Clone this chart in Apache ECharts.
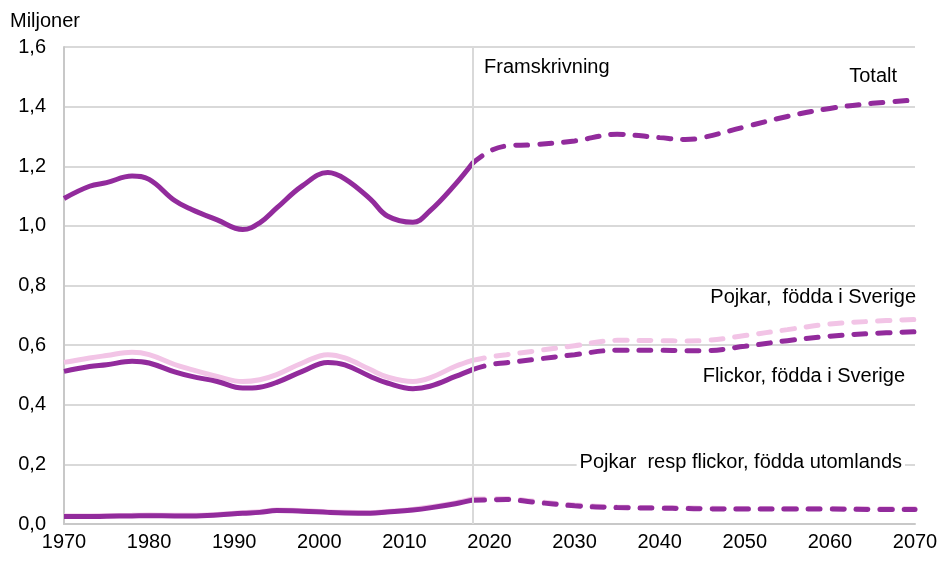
<!DOCTYPE html>
<html>
<head>
<meta charset="utf-8">
<title>Barn och unga</title>
<script src="https://cdn.jsdelivr.net/npm/echarts@6/dist/echarts.min.js"></script>
<style>
    html, body { margin: 0; padding: 0; background: #fff; }
    #main { width: 943px; height: 561px; }
</style>
</head>
<body>
<div id="main"></div>
<script>
    // år för utfall resp framskrivning
    var histYears = [1970, 1973, 1975, 1978, 1980, 1983, 1985, 1988, 1991, 1993, 1995, 1998, 2001, 2003, 2006, 2008, 2011, 2013, 2016, 2018];
    var projYears = [2018, 2020, 2022, 2025, 2030, 2035, 2040, 2043, 2045, 2050, 2055, 2060, 2065, 2070];

    var totHist = [1.092, 1.133, 1.145, 1.167, 1.156, 1.085, 1.055, 1.02, 0.988, 1.01, 1.06, 1.134, 1.179, 1.158, 1.09, 1.033, 1.012, 1.05, 1.14, 1.21];
    var totProj = [1.21, 1.25, 1.268, 1.272, 1.285, 1.307, 1.296, 1.29, 1.296, 1.332, 1.367, 1.394, 1.411, 1.422];

    var pojkarHist = [0.542, 0.557, 0.565, 0.576, 0.568, 0.535, 0.518, 0.495, 0.478, 0.484, 0.501, 0.540, 0.568, 0.557, 0.518, 0.493, 0.478, 0.490, 0.529, 0.549];
    var pojkarProj = [0.549, 0.560, 0.568, 0.579, 0.598, 0.616, 0.615, 0.614, 0.615, 0.632, 0.652, 0.671, 0.680, 0.686];

    var flickorHist = [0.512, 0.528, 0.534, 0.546, 0.540, 0.510, 0.495, 0.478, 0.456, 0.459, 0.475, 0.512, 0.542, 0.534, 0.495, 0.473, 0.454, 0.462, 0.495, 0.518];
    var flickorProj = [0.518, 0.534, 0.541, 0.551, 0.568, 0.583, 0.583, 0.581, 0.581, 0.596, 0.615, 0.630, 0.639, 0.645];

    var utlPojkarHist = [0.027, 0.027, 0.028, 0.029, 0.030, 0.029, 0.029, 0.032, 0.038, 0.041, 0.047, 0.045, 0.041, 0.039, 0.038, 0.042, 0.049, 0.057, 0.071, 0.084];
    var utlPojkarProj = [0.084, 0.084, 0.085, 0.077, 0.064, 0.057, 0.055, 0.054, 0.053, 0.052, 0.052, 0.052, 0.051, 0.051];

    var utlFlickorHist = [0.025, 0.025, 0.026, 0.027, 0.028, 0.027, 0.027, 0.030, 0.036, 0.039, 0.045, 0.043, 0.039, 0.037, 0.036, 0.040, 0.047, 0.054, 0.068, 0.080];
    var utlFlickorProj = [0.080, 0.081, 0.082, 0.074, 0.061, 0.055, 0.053, 0.052, 0.051, 0.050, 0.050, 0.050, 0.049, 0.049];

    var lila = '#922b9c';
    var rosa = '#f2c4e6';
    var font = '"Liberation Sans", Arial, sans-serif';

    function pairs(years, vals) {
        return years.map(function (y, i) { return [y, vals[i]]; });
    }

    function line(name, years, vals, color, dashed) {
        return {
            name: name,
            type: 'line',
            data: pairs(years, vals),
            smooth: 0.4,
            symbol: 'none',
            silent: true,
            lineStyle: {
                color: color,
                width: 5,
                type: dashed ? [12, 12] : 'solid',
                cap: dashed ? 'round' : 'butt'
            }
        };
    }

    var series = [
        line('utlPojkar', histYears, utlPojkarHist, rosa, false),
        line('utlPojkar', projYears, utlPojkarProj, rosa, true),
        line('utlFlickor', histYears, utlFlickorHist, lila, false),
        line('utlFlickor', projYears, utlFlickorProj, lila, true),
        line('pojkar', histYears, pojkarHist, rosa, false),
        line('pojkar', projYears, pojkarProj, rosa, true),
        line('flickor', histYears, flickorHist, lila, false),
        line('flickor', projYears, flickorProj, lila, true),
        line('totalt', histYears, totHist, lila, false),
        line('totalt', projYears, totProj, lila, true)
    ];

    // vertikal linje vid framskrivningens start
    series[0].markLine = {
        silent: true,
        symbol: 'none',
        label: { show: false },
        lineStyle: { color: '#d9d9d9', width: 2, type: 'solid' },
        data: [{ xAxis: 2018 }]
    };

    function txt(x, y, s, align, bg) {
        return {
            type: 'text',
            left: align === 'right' ? null : x,
            right: align === 'right' ? x : null,
            top: y,
            z: 10,
            style: {
                text: s,
                font: '20px ' + font,
                fill: '#000',
                backgroundColor: bg ? '#fff' : null,
                padding: bg ? [0, 3] : 0
            }
        };
    }

    var chart = echarts.init(document.getElementById('main'));
    chart.setOption({
        animation: false,
        grid: { left: 64, right: 28, top: 47, bottom: 37 },
        xAxis: {
            type: 'value',
            min: 1970,
            max: 2070,
            interval: 10,
            axisLine: { lineStyle: { color: '#c8c8c8', width: 2 } },
            axisTick: { show: false },
            splitLine: { show: false },
            axisLabel: {
                color: '#000',
                fontSize: 20,
                fontFamily: font,
                margin: 8,
                formatter: function (v) { return String(v); }
            }
        },
        yAxis: {
            type: 'value',
            min: 0,
            max: 1.6,
            interval: 0.2,
            axisLine: { show: true, lineStyle: { color: '#c8c8c8', width: 2 } },
            axisTick: { show: false },
            splitLine: { lineStyle: { color: '#d9d9d9', width: 2 } },
            axisLabel: {
                color: '#000',
                fontSize: 20,
                fontFamily: font,
                margin: 18,
                formatter: function (v) { return v.toFixed(1).replace('.', ','); }
            }
        },
        graphic: [
            txt(10, 11, 'Miljoner'),
            txt(484, 57, 'Framskrivning'),
            txt(46, 66, 'Totalt', 'right'),
            txt(27, 287, 'Pojkar,  födda i Sverige', 'right'),
            txt(38, 366, 'Flickor, födda i Sverige', 'right'),
            txt(38, 452, 'Pojkar  resp flickor, födda utomlands', 'right', true)
        ],
        series: series
    });
</script>
</body>
</html>
